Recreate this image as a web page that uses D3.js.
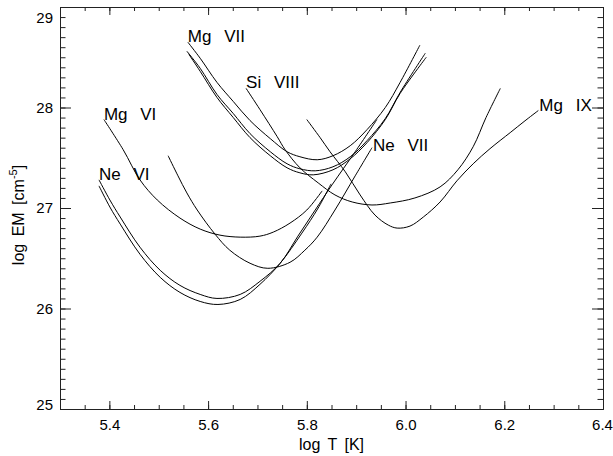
<!DOCTYPE html>
<html>
<head>
<meta charset="utf-8">
<script src="https://cdn.jsdelivr.net/npm/d3@7"></script>
<style>
    body { margin: 0; background: #fff; }
    text { font-family: "Liberation Sans", Arial, sans-serif; fill: #000; }
</style>
</head>
<body>
<svg id="chart"></svg>
<script>
// EM loci: log T grid and log EM for every line
const logT_NeVI_1 = [5.379, 5.401, 5.422, 5.462, 5.503, 5.543, 5.584, 5.618, 5.665, 5.705, 5.746, 5.782, 5.817, 5.851, 5.898, 5.942]
const logEM_NeVI_1 = [27.28, 27.08, 26.91, 26.61, 26.38, 26.23, 26.14, 26.10, 26.14, 26.27, 26.45, 26.72, 26.98, 27.23, 27.56, 27.88]

const logT_NeVI_2 = [5.379, 5.401, 5.422, 5.462, 5.503, 5.543, 5.584, 5.620, 5.665, 5.705, 5.746, 5.790, 5.823, 5.849]
const logEM_NeVI_2 = [27.22, 27.01, 26.84, 26.54, 26.31, 26.16, 26.07, 26.04, 26.09, 26.24, 26.45, 26.75, 27.00, 27.24]

const logT_MgVI = [5.389, 5.428, 5.462, 5.497, 5.543, 5.584, 5.624, 5.665, 5.705, 5.732, 5.766, 5.800, 5.831]
const logEM_MgVI = [27.88, 27.58, 27.28, 27.08, 26.90, 26.79, 26.73, 26.71, 26.72, 26.76, 26.85, 26.98, 27.17]

const logT_NeVII = [5.519, 5.539, 5.557, 5.578, 5.614, 5.644, 5.685, 5.721, 5.766, 5.796, 5.821, 5.857, 5.898, 5.932]
const logEM_NeVII = [27.52, 27.32, 27.15, 26.98, 26.74, 26.58, 26.45, 26.40, 26.46, 26.58, 26.71, 26.98, 27.32, 27.60]

const logT_MgVII_1 = [5.559, 5.584, 5.618, 5.651, 5.685, 5.726, 5.760, 5.786, 5.821, 5.853, 5.888, 5.922, 5.959, 5.989, 6.029]
const logEM_MgVII_1 = [28.65, 28.49, 28.25, 28.06, 27.87, 27.69, 27.56, 27.51, 27.48, 27.52, 27.62, 27.78, 28.00, 28.25, 28.62]

const logT_MgVII_2 = [5.557, 5.584, 5.618, 5.651, 5.685, 5.726, 5.760, 5.786, 5.817, 5.853, 5.888, 5.922, 5.959, 5.989, 6.040]
const logEM_MgVII_2 = [28.56, 28.39, 28.13, 27.94, 27.74, 27.56, 27.44, 27.39, 27.37, 27.41, 27.51, 27.67, 27.89, 28.15, 28.54]

const logT_MgVII_3 = [5.561, 5.584, 5.618, 5.651, 5.685, 5.726, 5.760, 5.786, 5.813, 5.853, 5.888, 5.922, 5.959, 5.989, 6.042]
const logEM_MgVII_3 = [28.53, 28.36, 28.10, 27.90, 27.70, 27.52, 27.40, 27.35, 27.33, 27.38, 27.49, 27.65, 27.88, 28.14, 28.50]

const logT_SiVIII = [5.677, 5.705, 5.740, 5.756, 5.786, 5.823, 5.857, 5.892, 5.932, 5.969, 6.019, 6.070, 6.106, 6.137, 6.163, 6.192]
const logEM_SiVIII = [28.19, 27.98, 27.71, 27.58, 27.40, 27.25, 27.13, 27.06, 27.03, 27.05, 27.10, 27.21, 27.38, 27.61, 27.90, 28.19]

const logT_MgIX = [5.800, 5.827, 5.847, 5.878, 5.908, 5.938, 5.965, 5.983, 6.009, 6.036, 6.070, 6.104, 6.137, 6.171, 6.212, 6.240, 6.269]
const logEM_MgIX = [27.88, 27.70, 27.56, 27.36, 27.13, 26.93, 26.83, 26.80, 26.82, 26.91, 27.06, 27.27, 27.44, 27.59, 27.75, 27.86, 27.97]

// tick values
const xMajorTicks = [5.4, 5.6, 5.8, 6.0, 6.2, 6.4]
const yMajorTicks = [25, 26, 27, 28, 29]

// ion labels: which curve and which end of it carries the name
const labelNames = ["Ne VI", "Mg VI", "Mg VII", "Si VIII", "Ne VII", "Mg IX"]
const labelCurve = [0, 2, 4, 7, 3, 8]
const labelAtEnd = [false, false, false, false, true, true]

const curves = [
    [logT_NeVI_1, logEM_NeVI_1],
    [logT_NeVI_2, logEM_NeVI_2],
    [logT_MgVI, logEM_MgVI],
    [logT_NeVII, logEM_NeVII],
    [logT_MgVII_1, logEM_MgVII_1],
    [logT_MgVII_2, logEM_MgVII_2],
    [logT_MgVII_3, logEM_MgVII_3],
    [logT_SiVIII, logEM_SiVIII],
    [logT_MgIX, logEM_MgIX]
].map(([t, em]) => t.map((d, i) => [d, em[i]]))

const dimensions = {
    width: 543,
    height: 402,
    margin: {top: 7, right: 10, bottom: 47, left: 60}
}

const svg = d3.select('#chart')
    .attr('width', dimensions.width + dimensions.margin.left + dimensions.margin.right)
    .attr('height', dimensions.height + dimensions.margin.top + dimensions.margin.bottom)

const graph = svg.append('g')
    .attr('transform', `translate(${dimensions.margin.left}, ${dimensions.margin.top})`)

const xScale = d3.scaleLinear()
    .domain([5.3, 6.4])
    .range([0, dimensions.width])

const yScale = d3.scaleLinear()
    .domain([25, 29])
    .range([dimensions.height, 0])

const xMinor = d3.range(5.3, 6.401, 0.05).map(v => +v.toFixed(2))
const yMinor = d3.range(25, 29.001, 0.1).map(v => +v.toFixed(1))

// axes on all four sides, ticks pointing inwards, labels only bottom and left
const addAxis = (axisFn, scale, major, minor, len, transform, labels) => {
    const g = graph.append('g').attr('transform', transform)
    g.append('g').call(axisFn(scale).tickValues(minor).tickSizeInner(-len / 2).tickSizeOuter(0).tickFormat(''))
    const main = g.append('g').call(axisFn(scale).tickValues(major).tickSizeInner(-len).tickSizeOuter(0)
        .tickPadding(axisFn === d3.axisBottom ? 10 : 7)
        .tickFormat(labels ? (axisFn === d3.axisBottom ? d3.format('.1f') : d3.format('d')) : ''))
    g.selectAll('path, line').attr('stroke', '#222').attr('stroke-width', 1)
    g.selectAll('text').attr('font-size', 15).attr('font-family', '"Liberation Sans", Arial, sans-serif').attr('fill', '#000')
    return main
}

const xAxisMain = addAxis(d3.axisBottom, xScale, xMajorTicks, xMinor, 8, `translate(0, ${dimensions.height})`, true)
addAxis(d3.axisTop, xScale, xMajorTicks, xMinor, 8, 'translate(0, 0)', false)
const yAxisMain = addAxis(d3.axisLeft, yScale, yMajorTicks, yMinor, 11, 'translate(0, 0)', true)
addAxis(d3.axisRight, yScale, yMajorTicks, yMinor, 11, `translate(${dimensions.width}, 0)`, false)

// keep the last x label inside the window
xAxisMain.selectAll('.tick text')
    .attr('dx', d => d === 6.4 ? -1 : 0)

// the outermost y labels sit inside the frame in the original
yAxisMain.selectAll('.tick text')
    .attr('dy', d => d === 29 ? '1.05em' : d === 25 ? '0.05em' : '0.32em')

// EM loci
const line = d3.line()
    .x(d => xScale(d[0]))
    .y(d => yScale(d[1]))
    .curve(d3.curveCatmullRom.alpha(0.5))

graph.selectAll('.locus')
    .data(curves)
    .enter().append('path')
    .attr('class', 'locus')
    .attr('fill', 'none')
    .attr('stroke', '#000')
    .attr('stroke-width', 1)
    .attr('d', line)

// ion names placed at the start or end of their curve
graph.selectAll('.ion')
    .data(labelNames)
    .enter().append('text')
    .attr('class', 'ion')
    .attr('font-size', 17)
    .attr('word-spacing', 8)
    .attr('x', (d, i) => {
        const c = curves[labelCurve[i]]
        const p = labelAtEnd[i] ? c[c.length - 1] : c[0]
        return xScale(p[0]) + (labelAtEnd[i] ? 1 : 0)
    })
    .attr('y', (d, i) => {
        const c = curves[labelCurve[i]]
        const p = labelAtEnd[i] ? c[c.length - 1] : c[0]
        return yScale(p[1]) + (labelNames[i] === 'Ne VII' ? 3 : 0)
    })
    .text(d => d)

// axis titles
svg.append('text')
    .attr('x', dimensions.margin.left + dimensions.width / 2)
    .attr('y', 450)
    .attr('text-anchor', 'middle')
    .attr('font-size', 16)
    .attr('word-spacing', 3)
    .text('log T [K]')

const yTitle = svg.append('text')
    .attr('transform', `translate(24, ${dimensions.margin.top + dimensions.height / 2 + 7}) rotate(-90)`)
    .attr('text-anchor', 'middle')
    .attr('font-size', 16)
    .attr('word-spacing', 3)
yTitle.append('tspan').text('log EM [cm')
yTitle.append('tspan').attr('dy', -7).attr('font-size', 11).text('-5')
yTitle.append('tspan').attr('dy', 7).text(']')
</script>
</body>
</html>
